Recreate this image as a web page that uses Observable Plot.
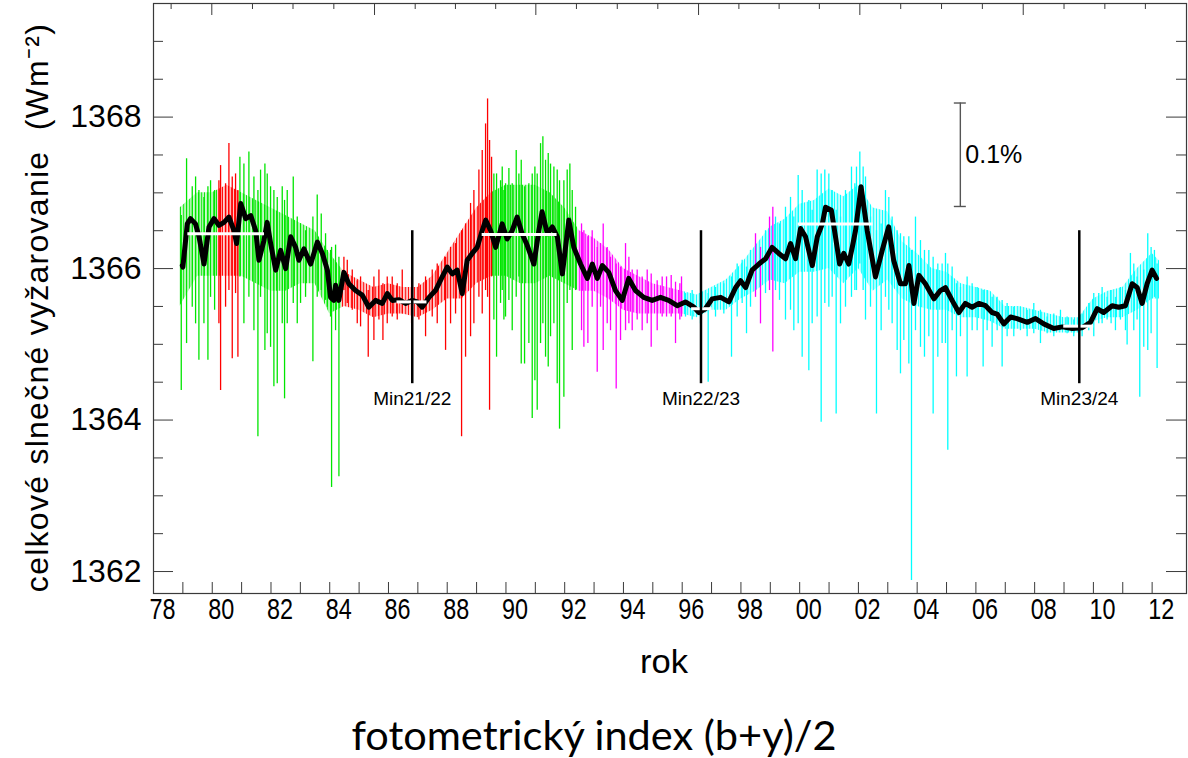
<!DOCTYPE html>
<html>
<head>
<meta charset="utf-8">
<script src="https://cdn.jsdelivr.net/npm/d3@7"></script>
<script src="https://cdn.jsdelivr.net/npm/@observablehq/plot@0.6"></script>
<style>
  html, body { margin: 0; padding: 0; background: #fff; }
  #chart { width: 1188px; height: 705px; }
  #caption {
    width: 1188px; text-align: center; color: #000; padding-top: 6px;
    font-family: Lato, "Open Sans", sans-serif; font-size: 41.5px; line-height: 46px;
  }
</style>
</head>
<body>
<div id="chart"></div>
<div id="caption">fotometrický index (b+y)/2</div>
<script>
// Total solar irradiance composite, daily values by instrument, 81-day smoothing in black.
const instrumentColor = {"HF": "#00e600", "ACRIM I": "#ff0000", "ACRIM II": "#ff00ff", "VIRGO": "#00ffff"};

// instrument spans used to tint the dense daily scatter
const segmentFrom = [1978.87, 1980.17, 1980.91, 1984.40, 1989.52, 1992.45, 1996.05];
const segmentTo   = [1980.17, 1980.91, 1984.40, 1989.52, 1992.45, 1996.05, 2012.30];
const segmentInstrument = ["HF", "ACRIM I", "HF", "ACRIM I", "HF", "ACRIM II", "VIRGO"];

// dense part of the daily scatter (W/m^2)
const coreYear = [1978.9,1979.5,1980.0,1980.5,1981.0,1981.5,1982.0,1982.5,1983.0,1983.5,1984.0,1984.5,1985.0,1985.5,1986.0,1986.5,1987.0,1987.5,1988.0,1988.5,1989.0,1989.5,1990.0,1990.5,1991.0,1991.5,1992.0,1992.5,1993.0,1993.5,1994.0,1994.5,1995.0,1995.5,1996.0,1996.5,1997.0,1997.5,1998.0,1998.5,1999.0,1999.5,2000.0,2000.5,2001.0,2001.5,2002.0,2002.5,2003.0,2003.5,2004.0,2004.5,2005.0,2005.5,2006.0,2006.5,2007.0,2007.5,2008.0,2008.5,2009.0,2009.5,2010.0,2010.5,2011.0,2011.5,2012.0,2012.25];
const coreHigh = [1366.8,1367.0,1367.0,1367.1,1367.0,1366.9,1366.8,1366.7,1366.6,1366.5,1366.2,1365.95,1365.85,1365.75,1365.8,1365.75,1365.75,1365.9,1366.2,1366.5,1366.8,1367.0,1367.1,1367.1,1367.1,1367.0,1366.8,1366.5,1366.4,1366.25,1366.0,1365.9,1365.8,1365.75,1365.7,1365.65,1365.75,1365.85,1366.05,1366.3,1366.55,1366.65,1366.85,1366.9,1367.05,1366.95,1367.1,1366.8,1366.75,1366.35,1366.2,1366.0,1365.95,1365.8,1365.75,1365.7,1365.5,1365.5,1365.45,1365.4,1365.35,1365.35,1365.6,1365.7,1365.75,1366.0,1366.2,1366.1];
const coreLow  = [1365.5,1365.9,1365.9,1365.9,1365.9,1365.8,1365.7,1365.7,1365.8,1365.8,1365.4,1365.5,1365.45,1365.35,1365.4,1365.4,1365.35,1365.45,1365.6,1365.6,1365.8,1365.9,1365.9,1365.8,1365.8,1365.9,1365.8,1365.7,1365.7,1365.6,1365.45,1365.4,1365.4,1365.4,1365.4,1365.35,1365.45,1365.45,1365.6,1365.7,1365.85,1365.8,1365.95,1365.95,1366.0,1365.8,1366.0,1365.7,1365.85,1365.6,1365.5,1365.45,1365.45,1365.35,1365.35,1365.3,1365.2,1365.2,1365.2,1365.15,1365.15,1365.15,1365.3,1365.35,1365.35,1365.45,1365.6,1365.6];

// individual daily excursions: [year, low, high]
const spikesHF = [
  [1978.945,1364.39,1366.70],[1979.126,1365.01,1367.45],[1979.319,1365.49,1367.08],[1979.433,1365.27,1367.21],
  [1979.546,1364.79,1367.03],[1979.717,1365.27,1366.94],[1979.853,1364.79,1367.08],[1979.943,1365.62,1367.16],
  [1980.080,1365.45,1367.03],[1980.942,1365.89,1367.47],[1981.078,1365.27,1367.38],[1981.248,1365.62,1367.54],
  [1981.419,1365.18,1367.21],[1981.555,1363.78,1367.03],[1981.645,1365.62,1367.30],[1981.793,1364.92,1367.38],
  [1981.872,1365.14,1367.25],[1981.986,1364.96,1367.08],[1982.099,1364.44,1367.03],[1982.213,1364.48,1366.94],
  [1982.383,1365.27,1367.08],[1982.462,1364.28,1366.90],[1982.553,1365.27,1367.03],[1982.758,1365.54,1367.21],
  [1982.894,1365.27,1366.68],[1983.007,1365.54,1366.59],[1983.177,1365.62,1366.50],[1983.427,1364.77,1366.68],
  [1983.574,1365.62,1366.97],[1983.711,1365.71,1366.72],[1983.858,1365.58,1366.46],[1983.916,1365.49,1366.24],
  [1984.028,1365.36,1366.24],[1984.063,1363.11,1366.28],[1984.199,1365.18,1366.31],[1984.313,1363.25,1366.15],
  [1989.589,1365.32,1367.25],[1989.680,1364.83,1367.25],[1989.816,1365.54,1367.16],[1989.873,1365.71,1367.34],
  [1989.930,1365.32,1367.03],[1989.986,1365.36,1367.12],[1990.100,1365.58,1367.32],[1990.213,1365.18,1367.12],
  [1990.349,1365.62,1367.56],[1990.440,1365.89,1367.25],[1990.520,1364.74,1367.43],[1990.633,1364.74,1367.08],
  [1990.780,1365.01,1367.12],[1990.894,1364.02,1367.25],[1990.985,1364.52,1367.34],[1991.064,1364.13,1367.25],
  [1991.178,1365.01,1367.65],[1991.257,1365.27,1367.74],[1991.348,1364.83,1367.43],[1991.439,1364.70,1367.52],
  [1991.518,1365.10,1367.38],[1991.632,1365.27,1367.34],[1991.745,1364.48,1367.30],[1991.824,1363.88,1367.16],
  [1991.972,1364.30,1367.16],[1992.085,1365.54,1367.30],[1992.176,1365.71,1367.38],[1992.256,1364.92,1367.03],
  [1992.369,1365.71,1366.81]
];
const spikesACRIM1 = [
  [1980.227,1365.27,1367.16],[1980.284,1364.39,1367.36],[1980.454,1365.49,1367.12],[1980.568,1365.71,1367.65],
  [1980.681,1364.81,1367.21],[1980.794,1365.67,1367.25],[1980.874,1364.83,1367.03],
  [1984.483,1365.71,1366.15],[1984.597,1365.54,1366.11],[1984.767,1365.45,1365.98],[1984.937,1365.27,1365.84],
  [1985.050,1365.23,1365.89],[1985.311,1364.83,1365.71],[1985.504,1365.05,1365.89],[1985.675,1365.32,1365.98],
  [1985.811,1365.05,1365.80],[1985.958,1365.27,1365.89],[1986.128,1365.36,1365.89],[1986.299,1365.32,1365.80],
  [1986.469,1365.40,1365.98],[1986.787,1365.27,1365.89],[1987.036,1365.32,1365.80],[1987.263,1365.10,1365.89],
  [1987.490,1365.36,1365.98],[1987.660,1365.27,1366.06],[1987.944,1364.92,1366.15],[1988.114,1365.27,1366.28],
  [1988.284,1365.40,1366.33],[1988.489,1363.78,1366.50],[1988.625,1364.83,1366.59],[1988.795,1365.10,1366.86],
  [1988.908,1365.27,1367.03],[1989.079,1365.62,1367.30],[1989.192,1365.40,1367.56],[1989.306,1365.71,1367.91],
  [1989.374,1365.62,1368.24],[1989.442,1364.13,1367.69],[1989.510,1365.89,1367.47]
];
const spikesACRIM2 = [
  [1992.573,1365.18,1366.59],[1992.653,1364.96,1366.50],[1992.789,1365.01,1366.42],[1992.936,1365.49,1366.50],
  [1993.107,1364.63,1366.28],[1993.220,1365.49,1366.33],[1993.311,1364.92,1366.59],[1993.447,1365.27,1366.28],
  [1993.560,1365.18,1366.15],[1993.753,1364.41,1366.06],[1993.901,1365.05,1366.02],[1994.071,1365.18,1366.33],
  [1994.185,1365.27,1366.15],[1994.298,1365.18,1365.98],[1994.468,1365.32,1365.98],[1994.638,1365.18,1365.89],
  [1994.809,1365.27,1365.98],[1994.945,1364.96,1365.93],[1995.149,1365.18,1365.84],[1995.319,1365.36,1365.89],
  [1995.467,1365.36,1365.89],[1995.626,1365.36,1365.91],[1995.773,1365.01,1365.82],[1995.921,1365.32,1365.80],
  [1995.977,1365.36,1365.89],
  [1998.496,1365.62,1366.46],[1998.666,1365.27,1366.28],[1998.973,1365.71,1366.68],[1999.086,1364.90,1366.81]
];
const spikesVIRGO = [
  [1996.113,1365.36,1365.67],[1996.340,1365.32,1365.71],[1996.624,1365.27,1365.67],[1996.885,1364.50,1365.67],
  [1997.135,1365.36,1365.75],[1997.418,1365.40,1365.80],[1997.679,1364.83,1365.89],[1997.872,1365.36,1366.06],
  [1998.042,1365.54,1366.11],[1998.190,1365.14,1366.02],[1998.326,1365.49,1366.24],[1998.837,1365.67,1366.50],
  [1999.177,1365.71,1366.68],[1999.313,1365.58,1366.59],[1999.517,1365.32,1366.81],[1999.688,1365.45,1366.94],
  [1999.801,1365.18,1366.68],[1999.949,1365.27,1367.23],[2000.085,1364.83,1367.03],[2000.312,1364.65,1366.90],
  [2000.425,1365.27,1366.77],[2000.595,1365.36,1367.30],[2000.732,1363.97,1367.25],[2000.856,1365.54,1367.30],
  [2000.993,1365.49,1367.25],[2001.106,1365.62,1367.03],[2001.242,1364.08,1366.77],[2001.390,1365.27,1366.68],
  [2001.560,1365.49,1367.03],[2001.764,1365.62,1367.34],[2001.878,1365.71,1367.12],[2001.934,1365.71,1367.34],
  [2002.048,1366.06,1367.54],[2002.161,1365.71,1367.34],[2002.241,1365.32,1367.21],[2002.411,1365.49,1366.68],
  [2002.615,1364.08,1366.50],[2002.774,1365.18,1366.59],[2002.921,1365.62,1367.03],[2003.035,1365.45,1366.94],
  [2003.148,1365.27,1366.68],[2003.319,1364.92,1366.50],[2003.432,1364.61,1366.46],[2003.546,1365.05,1366.42],
  [2003.716,1364.74,1366.42],[2003.807,1361.88,1366.24],[2003.943,1365.18,1366.68],[2004.113,1364.96,1366.37],
  [2004.249,1364.83,1366.24],[2004.397,1365.10,1366.24],[2004.544,1364.08,1366.15],[2004.703,1364.83,1366.06],
  [2004.850,1365.01,1366.06],[2004.964,1365.01,1366.20],[2005.043,1363.60,1366.06],[2005.191,1365.18,1366.02],
  [2005.338,1364.57,1365.80],[2005.474,1365.10,1365.75],[2005.701,1364.57,1365.89],[2005.872,1365.18,1365.80],
  [2006.042,1365.18,1365.75],[2006.246,1364.70,1365.71],[2006.382,1365.18,1365.71],[2006.552,1364.96,1365.62],
  [2006.723,1365.18,1365.62],[2006.893,1364.70,1365.58],[2007.063,1365.10,1365.54],[2007.290,1365.10,1365.49],
  [2007.517,1365.18,1365.49],[2007.744,1365.10,1365.45],[2007.971,1365.14,1365.54],[2008.198,1365.01,1365.45],
  [2008.425,1365.14,1365.36],[2008.652,1365.10,1365.40],[2008.879,1365.18,1365.45],[2009.105,1365.14,1365.36],
  [2009.332,1365.10,1365.32],[2009.616,1365.10,1365.40],[2009.843,1365.18,1365.54],[2010.013,1365.10,1365.67],
  [2010.183,1365.27,1365.67],[2010.297,1365.27,1365.75],[2010.467,1365.32,1365.62],[2010.603,1365.27,1365.71],
  [2010.751,1365.18,1365.62],[2010.921,1365.32,1365.75],[2011.091,1365.18,1365.71],[2011.148,1364.99,1365.62],
  [2011.261,1365.62,1366.20],[2011.375,1365.18,1366.06],[2011.488,1365.32,1365.89],[2011.579,1364.30,1365.75],
  [2011.715,1364.96,1365.98],[2011.851,1364.92,1366.46],[2011.965,1365.14,1366.28],[2012.078,1365.62,1366.24],
  [2012.169,1364.68,1366.06]
];

// smoothed composite (black curve)
const smoothYear = [1978.98,1979.00,1979.15,1979.26,1979.43,1979.55,1979.72,1979.89,1980.06,1980.23,1980.40,1980.57,1980.74,1980.83,1980.97,1981.14,1981.31,1981.48,1981.59,1981.76,1981.87,1981.99,1982.16,1982.33,1982.50,1982.67,1982.84,1982.95,1983.12,1983.35,1983.58,1983.75,1983.92,1984.03,1984.14,1984.20,1984.31,1984.48,1984.65,1984.88,1985.11,1985.33,1985.56,1985.79,1985.96,1986.13,1986.36,1986.58,1986.81,1986.98,1987.15,1987.38,1987.60,1987.83,1988.00,1988.17,1988.34,1988.51,1988.68,1988.85,1989.02,1989.19,1989.31,1989.48,1989.65,1989.87,1990.04,1990.21,1990.38,1990.55,1990.72,1990.95,1991.12,1991.23,1991.41,1991.58,1991.75,1991.92,1992.14,1992.31,1992.54,1992.77,1992.94,1993.11,1993.28,1993.50,1993.73,1993.96,1994.18,1994.41,1994.69,1994.98,1995.26,1995.54,1995.83,1996.11,1996.40,1996.57,1996.79,1997.02,1997.31,1997.59,1997.82,1997.99,1998.16,1998.38,1998.61,1998.84,1999.06,1999.29,1999.52,1999.69,1999.86,2000.03,2000.20,2000.43,2000.60,2000.77,2000.88,2001.08,2001.22,2001.36,2001.50,2001.67,2001.80,2001.90,2002.09,2002.30,2002.58,2002.81,2003.03,2003.20,2003.43,2003.60,2003.72,2003.89,2004.06,2004.28,2004.57,2004.79,2004.96,2005.19,2005.42,2005.64,2005.87,2006.10,2006.33,2006.55,2006.72,2006.95,2007.18,2007.40,2007.75,2008.03,2008.31,2008.65,2008.94,2009.28,2009.62,2009.90,2010.13,2010.35,2010.64,2010.86,2011.09,2011.32,2011.49,2011.66,2011.83,2012.00,2012.15];
const smoothTSI = [1366.04,1366.02,1366.59,1366.66,1366.59,1366.42,1366.06,1366.55,1366.66,1366.57,1366.61,1366.68,1366.50,1366.33,1366.86,1366.66,1366.70,1366.50,1366.11,1366.37,1366.61,1366.33,1365.98,1366.24,1366.00,1366.42,1366.28,1366.11,1366.26,1366.06,1366.35,1366.20,1365.98,1365.62,1365.58,1365.78,1365.58,1365.95,1365.80,1365.71,1365.65,1365.49,1365.58,1365.54,1365.67,1365.58,1365.59,1365.54,1365.58,1365.56,1365.49,1365.62,1365.71,1365.89,1366.02,1365.93,1365.98,1365.67,1366.11,1366.20,1366.28,1366.50,1366.64,1366.50,1366.28,1366.59,1366.39,1366.50,1366.68,1366.46,1366.31,1366.06,1366.50,1366.75,1366.46,1366.55,1366.42,1365.93,1366.64,1366.28,1366.06,1365.87,1366.06,1365.87,1366.04,1365.95,1365.71,1365.58,1365.87,1365.71,1365.62,1365.58,1365.62,1365.58,1365.51,1365.56,1365.49,1365.42,1365.47,1365.60,1365.62,1365.56,1365.75,1365.84,1365.75,1365.98,1366.06,1366.13,1366.28,1366.20,1366.13,1366.33,1366.13,1366.53,1366.42,1366.04,1366.42,1366.59,1366.81,1366.77,1366.42,1366.06,1366.20,1366.06,1366.30,1366.50,1367.08,1366.50,1365.89,1366.24,1366.55,1366.11,1365.80,1365.80,1366.04,1365.54,1365.91,1365.80,1365.60,1365.71,1365.75,1365.58,1365.42,1365.54,1365.49,1365.54,1365.51,1365.42,1365.40,1365.27,1365.36,1365.34,1365.29,1365.34,1365.27,1365.21,1365.23,1365.21,1365.22,1365.29,1365.47,1365.42,1365.51,1365.49,1365.51,1365.80,1365.75,1365.54,1365.80,1365.98,1365.87];

// mean levels around cycle maxima and minima (white bars)
const levelFrom  = [1979.17, 1986.29, 1989.19, 1996.32, 1999.95, 2008.99];
const levelTo    = [1981.78, 1987.31, 1991.74, 1997.02, 2002.50, 2010.01];
const levelValue = [1366.46, 1365.56, 1366.45, 1365.47, 1366.59, 1365.24];

// solar cycle minima markers
const minimumYear  = [1986.81, 1996.64, 2009.52];
const minimumLabel = ["Min21/22", "Min22/23", "Min23/24"];
const minimumLow = 1364.48, minimumHigh = 1366.50, minimumLabelY = 1364.28;

// 0.1 % scale bar
const scaleYear = 2005.47, scaleBase = 1366.82, scaleReference = 1366, scaleFraction = 0.001, scaleLabel = "0.1%";

// axes
const xTickYears = d3.range(1978, 2013);
const xLabelYears = d3.range(1978, 2013, 2);
const xLabelText = ["78","80","82","84","86","88","90","92","94","96","98","00","02","04","06","08","10","12"];
const yLabelValues = [1362, 1364, 1366, 1368];
const yMinorValues = [1362.5, 1363, 1363.5, 1364.5, 1365, 1365.5, 1366.5, 1367, 1367.5, 1368.5, 1369];
const topMajorTicks = [1979.985, 1985.525, 1991.017, 1996.557, 2002.048, 2007.611];
const topMinorTicks = [1978.60, 1981.37, 1982.75, 1984.14, 1986.91, 1988.28, 1989.65, 1992.40, 1993.79, 1995.17, 1997.93, 1999.30, 2000.67, 2003.44, 2004.83, 2006.22, 2009.00, 2010.39, 2011.77];
const yTitle = "celkové slnečné vyžarovanie\u00a0 (Wm\u207b\u00b2)";
const xTitle = "rok";

// tables for the marks
const core = coreYear.map((year, i) => ({year, low: coreLow[i], high: coreHigh[i]}));
const spikes = [
  ...spikesHF.map(d => ({instrument: "HF", year: d[0], low: d[1], high: d[2]})),
  ...spikesACRIM1.map(d => ({instrument: "ACRIM I", year: d[0], low: d[1], high: d[2]})),
  ...spikesACRIM2.map(d => ({instrument: "ACRIM II", year: d[0], low: d[1], high: d[2]})),
  ...spikesVIRGO.map(d => ({instrument: "VIRGO", year: d[0], low: d[1], high: d[2]}))
];
const smooth = smoothYear.map((year, i) => ({year, tsi: smoothTSI[i]}));
const levels = levelFrom.map((from, i) => ({from, to: levelTo[i], value: levelValue[i]}));
const minima = minimumYear.map((year, i) => ({year, label: minimumLabel[i]}));
const xLabels = xLabelYears.map((year, i) => ({year, label: xLabelText[i]}));
const scaleTop = scaleBase + scaleReference * scaleFraction;

const W = 1188, H = 705, mL = 153, mR = 2, mT = 3, mB = 112;
const innerW = W - mL - mR, innerH = H - mT - mB;
const axisColor = "#3a3a3a";
const sans = "Liberation Sans, Arial, Helvetica, sans-serif";
const narrow = "Liberation Sans Narrow, Arial Narrow, Liberation Sans, sans-serif";

const chart = Plot.plot({
  width: W, height: H,
  marginLeft: mL, marginRight: mR, marginTop: mT, marginBottom: mB,
  x: {domain: [1978, 2013.17], axis: null},
  y: {domain: [1361.71, 1369.5], axis: null},
  color: {type: "identity"},
  style: {background: "#fff", overflow: "visible"},
  marks: [
    Plot.areaY(core, {x: "year", y1: "low", y2: "high", fill: "url(#instrumentFill)", fillOpacity: 0.95}),
    Plot.ruleX(spikes, {x: "year", y1: "low", y2: "high", stroke: d => instrumentColor[d.instrument], strokeWidth: 1.3}),
    Plot.line(smooth, {x: "year", y: "tsi", stroke: "#000", strokeWidth: 5, strokeLinejoin: "round", strokeLinecap: "round"}),
    Plot.ruleY(levels, {y: "value", x1: "from", x2: "to", stroke: "#fff", strokeWidth: 3}),
    Plot.ruleX(minima, {x: "year", y1: minimumLow, y2: minimumHigh, stroke: "#000", strokeWidth: 2.5}),
    Plot.text(minima, {x: "year", y: minimumLabelY, text: "label", fontSize: 19, fontFamily: sans, fill: "#000"}),
    // scale bar
    Plot.ruleX([scaleYear], {x: d => d, y1: scaleBase, y2: scaleTop, stroke: "#555", strokeWidth: 1.4}),
    Plot.ruleY([scaleBase, scaleTop], {y: d => d, x1: scaleYear, x2: scaleYear, insetLeft: -6, insetRight: -6, stroke: "#555", strokeWidth: 1.4}),
    Plot.text([scaleLabel], {x: scaleYear, y: (scaleBase + scaleTop) / 2, text: d => d, dx: 5, textAnchor: "start", fontSize: 25, fontFamily: sans, fill: "#000"}),
    // frame and inward ticks
    Plot.frame({stroke: axisColor, strokeWidth: 1.2}),
    Plot.tickX(xTickYears, {x: d => d, insetTop: innerH - 11, stroke: axisColor}),
    Plot.tickX(topMajorTicks, {x: d => d, insetBottom: innerH - 12, stroke: axisColor}),
    Plot.tickX(topMinorTicks, {x: d => d, insetBottom: innerH - 6, stroke: axisColor}),
    Plot.tickY(yMinorValues, {y: d => d, insetRight: innerW - 10, stroke: axisColor}),
    Plot.tickY(yLabelValues, {y: d => d, insetRight: innerW - 20, stroke: axisColor}),
    Plot.tickY(yMinorValues, {y: d => d, insetLeft: innerW - 10, stroke: axisColor}),
    Plot.tickY(yLabelValues, {y: d => d, insetLeft: innerW - 20, stroke: axisColor}),
    // labels
    Plot.text(xLabels, {x: "year", text: "label", frameAnchor: "bottom", dy: 25, dx: 9, fontSize: 30, fontFamily: narrow, fill: "#000"}),
    Plot.text([xTitle], {text: d => d, frameAnchor: "bottom", dy: 79, dx: -6, fontSize: 34, fontFamily: narrow, fill: "#000"}),
    Plot.text(yLabelValues, {y: d => d, text: d => String(d), frameAnchor: "left", dx: -12, textAnchor: "end", fontSize: 32, fontFamily: sans, fill: "#000"}),
    Plot.text([yTitle], {text: d => d, frameAnchor: "left", textAnchor: "middle", dx: -116, dy: 9, rotate: -90, fontSize: 32, fontFamily: sans, fill: "#000"})
  ]
});

const x = chart.scale("x");
const svg = d3.select(chart);
const defs = svg.insert("defs", ":first-child");

// colour bands for the dense scatter, one hard stop per instrument span
const grad = defs.append("linearGradient")
  .attr("id", "instrumentFill").attr("gradientUnits", "userSpaceOnUse")
  .attr("x1", x.apply(1978)).attr("x2", x.apply(2013.17)).attr("y1", 0).attr("y2", 0);
const span = x.apply(2013.17) - x.apply(1978);
segmentFrom.forEach((from, i) => {
  const c = instrumentColor[segmentInstrument[i]];
  grad.append("stop").attr("offset", (x.apply(from) - x.apply(1978)) / span).attr("stop-color", c);
  grad.append("stop").attr("offset", (x.apply(segmentTo[i]) - x.apply(1978)) / span).attr("stop-color", c);
});

// the dense scatter is rendered as fine vertical hairlines rather than a flat tint
const hatch = defs.append("pattern").attr("id", "hairlines").attr("patternUnits", "userSpaceOnUse")
  .attr("width", 6).attr("height", 8);
[[0, 1, 1], [1.6, 1, 0.5], [3, 1, 0.85], [4.4, 1, 0.6]].forEach(([px, w, o]) =>
  hatch.append("rect").attr("x", px).attr("y", 0).attr("width", w).attr("height", 8).attr("fill", "#fff").attr("fill-opacity", o));
defs.append("mask").attr("id", "hairMask").attr("maskUnits", "userSpaceOnUse")
  .attr("x", 0).attr("y", 0).attr("width", W).attr("height", H)
  .append("rect").attr("width", W).attr("height", H).attr("fill", "url(#hairlines)");
svg.selectAll('[fill="url(#instrumentFill)"]').attr("mask", "url(#hairMask)");

document.getElementById("chart").appendChild(chart);

// condensed year labels and a title spread along the full axis height
const byText = t => svg.selectAll("text").filter(function() { return this.textContent === t; });
xLabelText.forEach(t => byText(t).attr("textLength", 26).attr("lengthAdjust", "spacingAndGlyphs"));
byText(xTitle).attr("textLength", 48).attr("lengthAdjust", "spacingAndGlyphs");
byText(yTitle).each(function() {
  const natural = this.getComputedTextLength();
  const target = 568;
  const chars = this.textContent.length;
  if (natural < target) this.style.letterSpacing = ((target - natural) / (chars - 1)) + "px";
});
</script>
</body>
</html>
